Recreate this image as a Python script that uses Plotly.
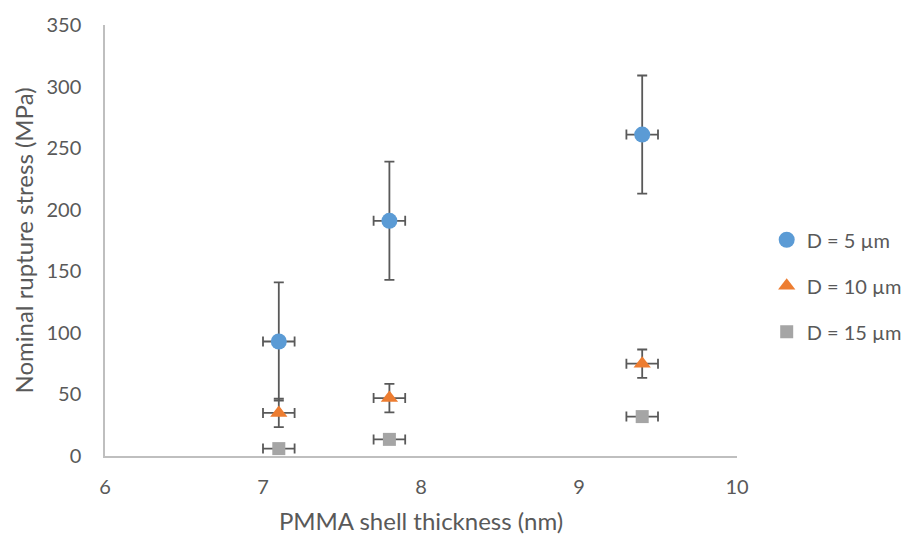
import plotly.graph_objects as go

# PMMA shell thickness (nm) and its uncertainty
thickness = [7.1, 7.8, 9.4]
thickness_err = [0.1, 0.1, 0.1]

# Nominal rupture stress (MPa) by capsule diameter
stress_d5 = [93, 191, 261]
stress_d5_err = [48, 48, 48]
stress_d10 = [35, 47, 75]
stress_d10_err = [11.5, 11.5, 11.5]
stress_d15 = [6, 13.5, 32]

series = [
    ("D = 5 µm", stress_d5, stress_d5_err, "circle", "#5B9BD5", 16),
    ("D = 10 µm", stress_d10, stress_d10_err, "triangle-up", "#ED7D31", 15),
    ("D = 15 µm", stress_d15, None, "square", "#A5A5A5", 13),
]

err_color = "#595959"
fig = go.Figure()
for i, (name, vals, yerr, sym, col, size) in enumerate(series):
    fig.add_trace(go.Scatter(
        x=thickness, y=vals, mode="markers", name=name,
        legendgroup=f"g{i}",
        marker=dict(symbol=sym, color=col, size=size, line=dict(width=0)),
        error_x=dict(type="data", array=thickness_err, visible=True,
                     color=err_color, thickness=1.8, width=5),
        error_y=dict(type="data", array=yerr if yerr else [0, 0, 0],
                     visible=yerr is not None, color=err_color,
                     thickness=1.8, width=5),
    ))

font_family = "Lato, Open Sans, sans-serif"
fig.update_layout(
    width=909, height=537,
    margin=dict(l=105, r=172, t=25, b=81, autoexpand=False),
    paper_bgcolor="white", plot_bgcolor="white",
    font=dict(family=font_family, color="#595959", size=20),
    xaxis=dict(range=[6, 10], dtick=1, showgrid=False, zeroline=False,
               showline=True, linecolor="#BFBFBF", linewidth=1.5,
               ticks="", tickfont=dict(size=20), ticklabelstandoff=12,
               title=dict(text="PMMA shell thickness (nm)", font=dict(size=24), standoff=16)),
    yaxis=dict(range=[0, 350], dtick=50, showgrid=False, zeroline=False,
               showline=True, linecolor="#BFBFBF", linewidth=1.5,
               ticks="", tickfont=dict(size=20), ticklabelstandoff=18,
               title=dict(text="Nominal rupture stress (MPa)", font=dict(size=24), standoff=6)),
    legend=dict(x=1.047, y=0.395, xanchor="left", yanchor="middle",
                font=dict(size=20, color="#595959"), tracegroupgap=17,
                itemwidth=30, bgcolor="rgba(0,0,0,0)"),
    showlegend=True,
)

fig.write_html("out.html")
